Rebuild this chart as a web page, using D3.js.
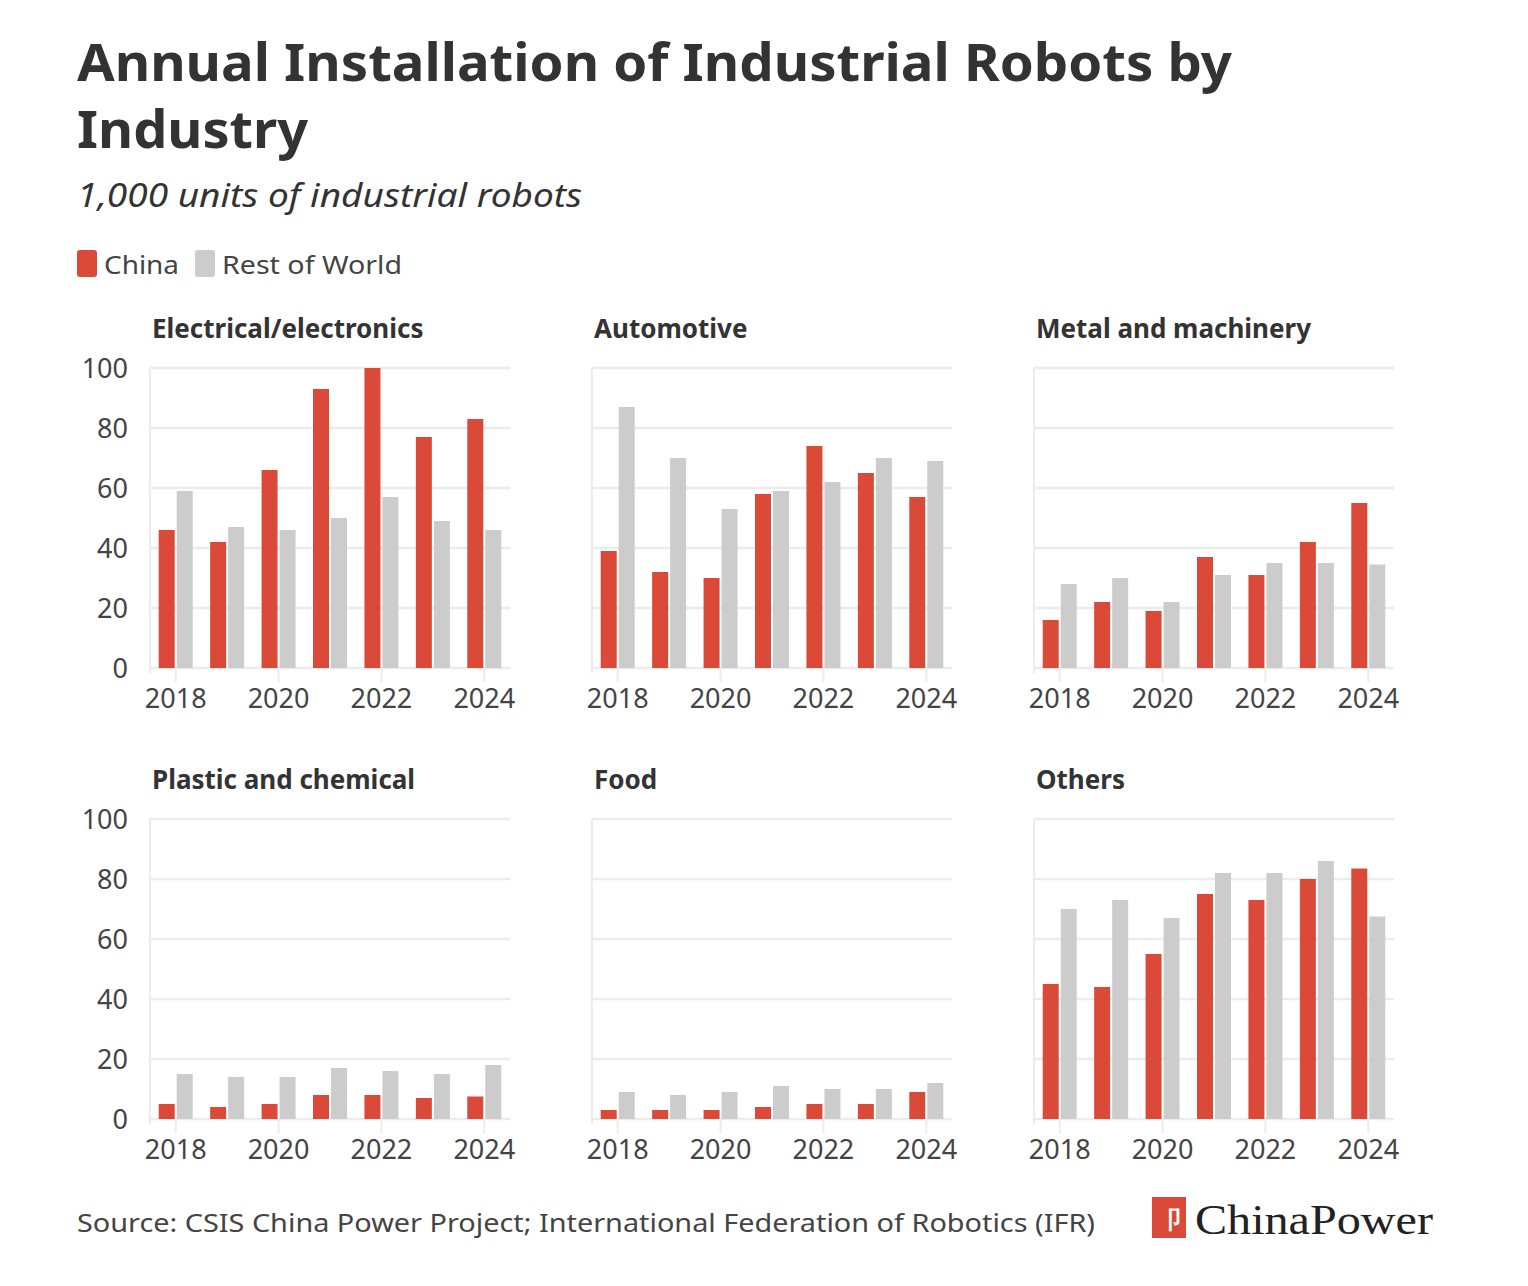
<!DOCTYPE html>
<html>
<head>
<meta charset="UTF-8">
<script src="https://d3js.org/d3.v7.min.js"></script>
<style>
  body { margin: 0; background: #fff; }
  text { font-family: "Noto Sans", "Open Sans", sans-serif; }
</style>
</head>
<body>
<svg width="1528" height="1286"></svg>
<script>
const years = [2018, 2019, 2020, 2021, 2022, 2023, 2024];
const yTicks = [0, 20, 40, 60, 80, 100];
const xTickYears = [2018, 2020, 2022, 2024];
const industries = ["Electrical/electronics", "Automotive", "Metal and machinery", "Plastic and chemical", "Food", "Others"];
const china = [
  [46, 42, 66, 93, 100, 77, 83],
  [39, 32, 30, 58, 74, 65, 57],
  [16, 22, 19, 37, 31, 42, 55],
  [5, 4, 5, 8, 8, 7, 7.5],
  [3, 3, 3, 4, 5, 5, 9],
  [45, 44, 55, 75, 73, 80, 83.5]
];
const restOfWorld = [
  [59, 47, 46, 50, 57, 49, 46],
  [87, 70, 53, 59, 62, 70, 69],
  [28, 30, 22, 31, 35, 35, 34.5],
  [15, 14, 14, 17, 16, 15, 18],
  [9, 8, 9, 11, 10, 10, 12],
  [70, 73, 67, 82, 82, 86, 67.5]
];

const red = "#db4a38", grey = "#cccccc", ink = "#333", grid = "#ececec";
const svg = d3.select("svg");

// header
svg.append("text").attr("x", 77).attr("y", 81).attr("font-size", 52).attr("font-weight", 700).attr("fill", ink)
  .attr("textLength", 1155).attr("lengthAdjust", "spacingAndGlyphs")
  .text("Annual Installation of Industrial Robots by");
svg.append("text").attr("x", 77).attr("y", 148).attr("font-size", 52).attr("font-weight", 700).attr("fill", ink)
  .attr("textLength", 231).attr("lengthAdjust", "spacingAndGlyphs")
  .text("Industry");
svg.append("text").attr("x", 77).attr("y", 207).attr("font-size", 32).attr("font-style", "italic").attr("fill", ink)
  .attr("textLength", 505).attr("lengthAdjust", "spacingAndGlyphs")
  .text("1,000 units of industrial robots");

// legend
const legend = [["China", red, 77, 75], ["Rest of World", grey, 195, 180]];
legend.forEach(([label, c, x, len]) => {
  svg.append("rect").attr("x", x).attr("y", 250).attr("width", 20).attr("height", 27).attr("rx", 3).attr("fill", c);
  svg.append("text").attr("x", x + 27).attr("y", 274).attr("font-size", 26).attr("fill", "#444")
    .attr("textLength", len).attr("lengthAdjust", "spacingAndGlyphs").text(label);
});

const colX = [150, 592, 1034], rowY = [368, 819];
const W = 360, H = 300;

industries.forEach((name, i) => {
  const left = colX[i % 3], top = rowY[Math.floor(i / 3)];
  const g = svg.append("g").attr("transform", `translate(${left},${top})`);
  const x = d3.scaleBand().domain(years).range([0, W]);
  const y = d3.scaleLinear().domain([0, 100]).range([H, 0]);
  const bw = 16, gap = 2;

  g.append("text").attr("x", 2).attr("y", -30).attr("font-size", 26).attr("font-weight", 700).attr("fill", ink).text(name);

  g.selectAll(".grid").data(yTicks).join("line")
    .attr("x1", 0).attr("x2", W).attr("y1", d => y(d)).attr("y2", d => y(d))
    .attr("stroke", grid).attr("stroke-width", 2.5);
  g.append("line").attr("x1", 0).attr("x2", 0).attr("y1", 0).attr("y2", H + 5)
    .attr("stroke", grid).attr("stroke-width", 2);
  g.selectAll(".xt").data(xTickYears).join("line")
    .attr("x1", d => x(d) + x.bandwidth() / 2).attr("x2", d => x(d) + x.bandwidth() / 2)
    .attr("y1", H).attr("y2", H + 14).attr("stroke", grid).attr("stroke-width", 2);

  g.selectAll(".c").data(china[i]).join("rect")
    .attr("x", (d, j) => x(years[j]) + x.bandwidth() / 2 - bw - gap / 2)
    .attr("y", d => y(d)).attr("width", bw).attr("height", d => H - y(d)).attr("fill", red);
  g.selectAll(".r").data(restOfWorld[i]).join("rect")
    .attr("x", (d, j) => x(years[j]) + x.bandwidth() / 2 + gap / 2)
    .attr("y", d => y(d)).attr("width", bw).attr("height", d => H - y(d)).attr("fill", grey);

  g.selectAll(".xl").data(xTickYears).join("text")
    .attr("x", d => x(d) + x.bandwidth() / 2).attr("y", H + 40)
    .attr("text-anchor", "middle").attr("font-size", 27).attr("fill", "#444").text(d => d);

  if (i % 3 === 0) {
    g.selectAll(".yl").data(yTicks).join("text")
      .attr("x", -22).attr("y", d => y(d) + 10).attr("text-anchor", "end")
      .attr("font-size", 27).attr("fill", "#444").text(d => d);
  }
});

// footer
svg.append("text").attr("x", 77).attr("y", 1232).attr("font-size", 25).attr("fill", "#444")
  .attr("textLength", 1018).attr("lengthAdjust", "spacingAndGlyphs")
  .text("Source: CSIS China Power Project; International Federation of Robotics (IFR)");
svg.append("rect").attr("x", 1152).attr("y", 1197).attr("width", 34).attr("height", 41).attr("fill", red);
svg.append("text").attr("x", 1169).attr("y", 1228).attr("text-anchor", "middle").attr("font-size", 24)
  .attr("font-weight", 700).attr("fill", "#fff").text("卩");
svg.append("text").attr("x", 1195).attr("y", 1234).attr("font-size", 42)
  .style("font-family", "'Liberation Serif', 'DejaVu Serif', serif").attr("fill", "#222")
  .attr("textLength", 238).attr("lengthAdjust", "spacingAndGlyphs").text("ChinaPower");
</script>
</body>
</html>
